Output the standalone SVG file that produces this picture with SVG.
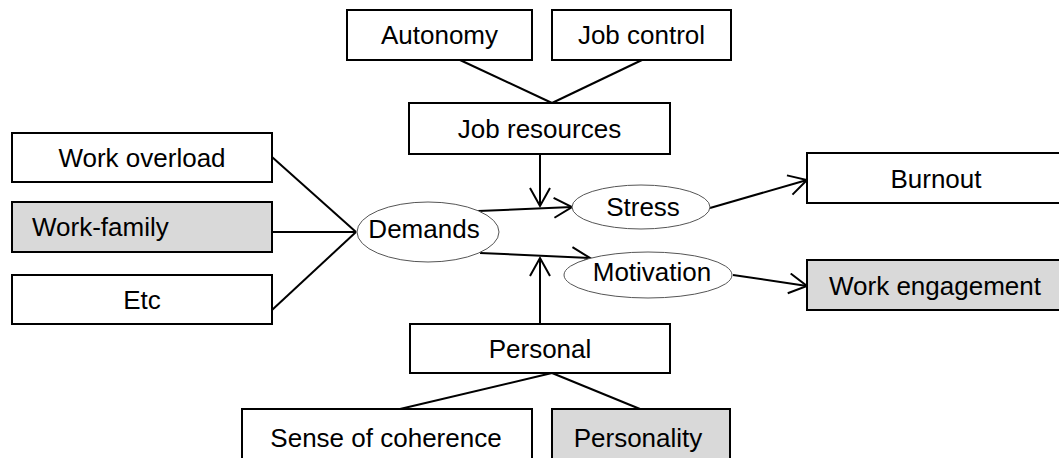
<svg xmlns="http://www.w3.org/2000/svg" width="1059" height="458" viewBox="0 0 1059 458">
<style>
.box{fill:#fff;stroke:#000;stroke-width:2}
.gray{fill:#d9d9d9}
.ell{fill:#fff;stroke:#555;stroke-width:1}
.t{font-family:"Liberation Sans",Arial,sans-serif;font-size:26px;fill:#000;text-anchor:middle}
.c{stroke:#000;stroke-width:2;fill:none}
</style>
<defs>
<marker id="arr" markerUnits="userSpaceOnUse" markerWidth="24" markerHeight="24" refX="19" refY="11" orient="auto">
<path d="M1,1 L19,11 L1,21" fill="none" stroke="#000" stroke-width="2"/>
</marker>
</defs>
<rect width="1059" height="458" fill="#fff"/>
<g id="connectors">
<line class="c" x1="460" y1="60" x2="552" y2="103"/>
<line class="c" x1="642" y1="60" x2="552" y2="103"/>
<line class="c" x1="272" y1="157" x2="356" y2="232"/>
<line class="c" x1="272" y1="232" x2="356" y2="232"/>
<line class="c" x1="272" y1="310" x2="356" y2="232"/>
<line class="c" x1="540" y1="154" x2="540" y2="206" marker-end="url(#arr)"/>
<line class="c" x1="540" y1="324" x2="540" y2="258" marker-end="url(#arr)"/>
<line class="c" x1="478" y1="211" x2="572" y2="207" marker-end="url(#arr)"/>
<line class="c" x1="480" y1="253" x2="590" y2="258" marker-end="url(#arr)"/>
<line class="c" x1="710" y1="208" x2="807" y2="180" marker-end="url(#arr)"/>
<line class="c" x1="733" y1="275" x2="807" y2="286" marker-end="url(#arr)"/>
<line class="c" x1="552" y1="373" x2="400" y2="409"/>
<line class="c" x1="552" y1="373" x2="640" y2="409"/>
</g>
<g id="autonomy"><rect class="box" x="347" y="10" width="185" height="50"/><text class="t" x="439.5" y="44">Autonomy</text></g>
<g id="job-control"><rect class="box" x="552" y="10" width="179" height="50"/><text class="t" x="641.5" y="44">Job control</text></g>
<g id="job-resources"><rect class="box" x="409" y="103" width="261" height="51"/><text class="t" x="539.5" y="138">Job resources</text></g>
<g id="work-overload"><rect class="box" x="12" y="133" width="260" height="49"/><text class="t" x="142" y="166.5">Work overload</text></g>
<g id="work-family"><rect class="box gray" x="12" y="202" width="260" height="50"/><text class="t" x="32" y="236" style="text-anchor:start">Work-family</text></g>
<g id="etc"><rect class="box" x="12" y="275" width="260" height="49"/><text class="t" x="142" y="309">Etc</text></g>
<g id="demands"><ellipse class="ell" cx="428" cy="232" rx="71" ry="30"/><text class="t" x="424" y="238">Demands</text></g>
<g id="stress"><ellipse class="ell" cx="641" cy="207" rx="69" ry="22"/><text class="t" x="643" y="216">Stress</text></g>
<g id="motivation"><ellipse class="ell" cx="648" cy="275" rx="84" ry="23"/><text class="t" x="652" y="281">Motivation</text></g>
<g id="burnout"><rect class="box" x="807" y="153" width="258" height="50"/><text class="t" x="936" y="188">Burnout</text></g>
<g id="work-engagement"><rect class="box gray" x="807" y="260" width="258" height="50"/><text class="t" x="935" y="295">Work engagement</text></g>
<g id="personal"><rect class="box" x="410" y="324" width="260" height="49"/><text class="t" x="540" y="358">Personal</text></g>
<g id="sense-of-coherence"><rect class="box" x="242" y="409" width="290" height="52"/><text class="t" x="386" y="447">Sense of coherence</text></g>
<g id="personality"><rect class="box gray" x="552" y="409" width="178" height="52"/><text class="t" x="638" y="447">Personality</text></g>
</svg>
